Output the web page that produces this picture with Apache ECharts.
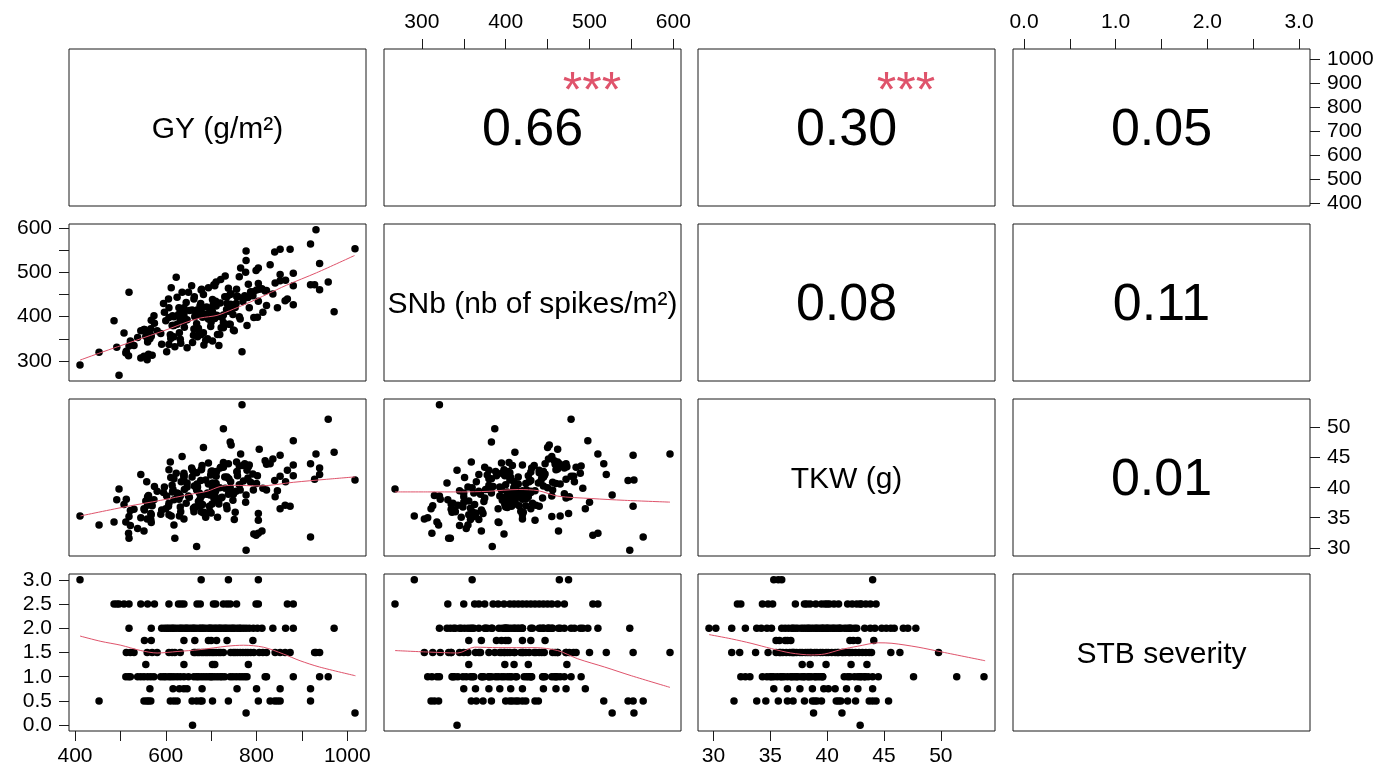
<!DOCTYPE html>
<html>
<head>
<meta charset="utf-8">
<script src="https://cdn.jsdelivr.net/npm/echarts@6/dist/echarts.min.js"></script>
<style>
  html, body { margin: 0; padding: 0; background: #fff; }
  #chart { width: 1383px; height: 770px; }
</style>
</head>
<body>
<div id="chart"></div>
<script>
// Variable names shown on the diagonal
const varNames = ['GY (g/m²)', 'SNb (nb of spikes/m²)', 'TKW (g)', 'STB severity'];

// Grain yield, g/m² (grouped by STB severity score)
const gy = [
  411, 678, 738, 804,
  486, 492, 497, 508, 519, 545, 560, 575, 607, 628, 634, 640, 669, 676, 705, 710, 727, 735, 742, 756, 799, 804, 868, 881,
  519, 568, 591, 597, 602, 606, 611, 615, 618, 623,
  629, 633, 636, 641, 645, 647, 652, 657, 661, 663,
  668, 674, 677, 681, 683, 688, 694, 697, 699, 703,
  708, 711, 716, 719, 722, 727, 731, 734, 739, 744,
  748, 751, 757, 762, 765, 771, 777, 784, 793, 802,
  812, 836, 864, 881, 971,
  553, 568, 640, 664, 694, 700, 712, 735, 792,
  513, 522, 530, 559, 570, 581, 607, 614, 620, 632,
  662, 665, 670, 674, 679, 683, 688, 692, 697, 702,
  706, 711, 717, 721, 727, 743, 749, 753, 758, 764,
  770, 776, 781, 787, 794, 806, 814, 822, 841, 852,
  863, 874, 928, 931, 939,
  556, 640, 703, 708, 782,
  512, 518, 522, 538, 545, 552, 560, 567, 574, 589,
  595, 600, 607, 612, 618, 625, 632, 640, 650, 662,
  668, 672, 678, 684, 690, 696, 700, 702, 708, 714,
  720, 724, 730, 742, 748, 755, 762, 768, 774, 779,
  819, 822, 881, 939, 958,
  565, 616, 630, 640, 647, 680, 757, 800, 852, 919,
  453, 552, 558, 562, 567, 610, 618, 625, 658, 668,
  676, 680, 703, 738, 804, 830, 840, 846, 852, 919,
  777, 1017,
  659
];

// Spike number, spikes/m²
const snb = [
  291, 360, 464, 475,
  391, 331, 268, 363, 455, 368, 350, 385, 398, 405, 410, 420, 415, 425, 430, 435, 375, 445, 450, 462, 504, 510, 440, 470,
  334, 392, 338, 410, 321, 440, 351, 402, 355, 489,
  420, 340, 455, 376, 432, 330, 414, 470, 358, 445,
  384, 362, 430, 399, 450, 347, 465, 407, 378, 345,
  396, 478, 401, 360, 375, 404, 492, 416, 383, 452,
  419, 368, 445, 400, 510, 442, 548, 420, 456, 399,
  463, 451, 482, 498, 411,
  371, 356, 389, 400, 395, 420, 403, 430, 447,
  322, 345, 335, 303, 313, 368, 420, 380, 332, 393,
  440, 402, 355, 411, 462, 364, 405, 350, 418, 399,
  472, 424, 335, 484, 387, 428, 370, 421, 446, 395,
  434, 500, 443, 456, 398, 462, 410, 459, 476, 481,
  436, 552, 472, 596, 520,
  356, 399, 410, 427, 473,
  318, 312, 339, 353, 307, 371, 343, 358, 402, 362,
  430, 391, 337, 465, 380, 444, 349, 395, 455, 372,
  413, 374, 460, 336, 422, 407, 388, 412, 470, 360,
  431, 398, 445, 383, 405, 430, 490, 321, 447, 380,
  458, 425, 427, 461, 478,
  350, 380, 364, 406, 393, 420, 445, 460, 495, 472,
  320, 311, 365, 315, 373, 359, 400, 383, 415, 405,
  424, 408, 439, 412, 435, 517, 546, 420, 552, 564,
  527, 553,
  342
];

// Thousand kernel weight, g
const tkw = [
  35.3, 36.0, 44.0, 35.7,
  34.3, 38.0, 39.8, 37.2, 35.2, 42.2, 38.5, 40.2, 43.0, 39.0,
  41.0, 34.8, 40.6, 38.2, 42.6, 39.5, 43.4, 41.8, 40.0, 44.3,
  32.1, 32.4, 42.9, 43.8,
  31.6, 34.2, 36.3, 40.1, 38.6, 36.9, 41.7, 39.3, 33.8, 42.4,
  38.1, 36.0, 45.2, 39.7, 37.4, 40.8, 38.4, 43.3, 36.6, 40.3,
  30.2, 39.1, 41.2, 37.2, 46.7, 35.1, 40.6, 38.8, 42.1, 39.5,
  37.9, 41.9, 37.7, 40.0, 38.3, 44.2, 39.9, 37.0, 41.5, 47.1,
  39.0, 34.7, 42.6, 40.5, 45.6, 41.1, 29.6, 43.8, 39.6, 42.0,
  32.8, 44.8, 41.0, 47.8, 45.9,
  36.3, 35.5, 42.0, 36.8, 44.1, 35.8, 42.7, 36.5, 42.3,
  38.1, 33.7, 36.4, 34.8, 37.0, 39.4, 35.5, 40.4, 31.6, 38.6,
  42.5, 36.7, 40.1, 37.8, 43.1, 35.8, 41.3, 39.1, 36.1, 42.8,
  38.3, 40.7, 37.3, 43.4, 49.8, 41.0, 38.9, 35.9, 42.0, 39.6,
  43.7, 37.6, 41.6, 40.9, 32.3, 46.4, 39.9, 43.9, 38.5, 41.9,
  37.1, 36.9, 41.4, 45.6, 42.2,
  37.8, 42.1, 39.9, 38.5, 43.5,
  34.3, 32.4, 36.2, 33.2, 35.0, 32.8, 37.1, 34.7, 38.0, 35.6,
  39.2, 36.5, 37.4, 35.3, 41.5, 38.3, 36.8, 42.4, 38.6, 36.0,
  39.6, 37.7, 43.0, 35.9, 38.9, 36.9, 42.7, 37.3, 39.0, 35.1,
  43.3, 38.4, 41.8, 47.6, 37.9, 39.4, 43.6, 53.8, 44.0, 42.9,
  44.5, 39.6, 42.0, 43.3, 51.4,
  37.6, 39.7, 35.3, 41.7, 40.1, 38.7, 42.7, 40.7, 36.5, 44.0,
  33.8, 36.5, 41.0, 38.7, 35.7, 44.3, 38.0, 39.1, 41.8, 42.5,
  37.0, 43.7, 40.8, 38.9, 34.6, 44.0, 41.2, 39.5, 45.4, 31.8,
  38.8, 41.3,
  42.9
];

// Septoria tritici blotch severity score
const stb = [
  3, 3, 3, 3,
  2.5, 2.5, 2.5, 2.5, 2.5, 2.5, 2.5, 2.5, 2.5, 2.5,
  2.5, 2.5, 2.5, 2.5, 2.5, 2.5, 2.5, 2.5, 2.5, 2.5,
  2.5, 2.5, 2.5, 2.5,
  2, 2, 2, 2, 2, 2, 2, 2, 2, 2,
  2, 2, 2, 2, 2, 2, 2, 2, 2, 2,
  2, 2, 2, 2, 2, 2, 2, 2, 2, 2,
  2, 2, 2, 2, 2, 2, 2, 2, 2, 2,
  2, 2, 2, 2, 2, 2, 2, 2, 2, 2,
  2, 2, 2, 2, 2,
  1.75, 1.75, 1.75, 1.75, 1.75, 1.75, 1.75, 1.75, 1.75,
  1.5, 1.5, 1.5, 1.5, 1.5, 1.5, 1.5, 1.5, 1.5, 1.5,
  1.5, 1.5, 1.5, 1.5, 1.5, 1.5, 1.5, 1.5, 1.5, 1.5,
  1.5, 1.5, 1.5, 1.5, 1.5, 1.5, 1.5, 1.5, 1.5, 1.5,
  1.5, 1.5, 1.5, 1.5, 1.5, 1.5, 1.5, 1.5, 1.5, 1.5,
  1.5, 1.5, 1.5, 1.5, 1.5,
  1.25, 1.25, 1.25, 1.25, 1.25,
  1, 1, 1, 1, 1, 1, 1, 1, 1, 1,
  1, 1, 1, 1, 1, 1, 1, 1, 1, 1,
  1, 1, 1, 1, 1, 1, 1, 1, 1, 1,
  1, 1, 1, 1, 1, 1, 1, 1, 1, 1,
  1, 1, 1, 1, 1,
  0.75, 0.75, 0.75, 0.75, 0.75, 0.75, 0.75, 0.75, 0.75, 0.75,
  0.5, 0.5, 0.5, 0.5, 0.5, 0.5, 0.5, 0.5, 0.5, 0.5,
  0.5, 0.5, 0.5, 0.5, 0.5, 0.5, 0.5, 0.5, 0.5, 0.5,
  0.25, 0.25,
  0
];

// Correlation coefficients for the upper panels: [row, col]
const corrCells = [[0, 1], [0, 2], [0, 3], [1, 2], [1, 3], [2, 3]];
const corrText = ['0.66', '0.30', '0.05', '0.08', '0.11', '0.01'];
const corrStars = ['***', '***', '', '', '', ''];

// Local smooth (lowess) trend per lower panel: [x, y]
const smoothGySnb = [[411, 302], [457, 319], [530, 345], [603, 371], [647, 388], [676, 397], [713, 403], [749, 417], [786, 433], [822, 450], [866, 471], [932, 499], [1016, 538]];
const smoothGyTkw = [[412, 35.3], [516, 36.9], [589, 37.9], [654, 38.9], [691, 39.4], [720, 40.2], [749, 40.4], [808, 40.3], [881, 40.9], [954, 41.4], [1017, 41.8]];
const smoothSnbTkw = [[268, 39.3], [307, 39.3], [347, 39.3], [379, 39.4], [415, 39.7], [439, 39.5], [462, 38.6], [502, 38.2], [542, 37.9], [596, 37.6]];
const smoothGyStb = [[411, 1.84], [457, 1.73], [501, 1.65], [545, 1.54], [581, 1.49], [625, 1.52], [676, 1.56], [735, 1.63], [771, 1.65], [815, 1.61], [859, 1.47], [896, 1.33], [939, 1.20], [1018, 1.02]];
const smoothSnbStb = [[268, 1.54], [307, 1.51], [343, 1.49], [363, 1.61], [391, 1.60], [435, 1.60], [462, 1.54], [486, 1.37], [518, 1.20], [550, 1.02], [596, 0.78]];
const smoothTkwStb = [[29.6, 1.87], [31.6, 1.78], [33.3, 1.69], [35.1, 1.58], [36.8, 1.49], [38.6, 1.45], [39.8, 1.47], [41.2, 1.56], [42.7, 1.63], [44.5, 1.70], [45.7, 1.69], [48.0, 1.61], [50.1, 1.51], [53.9, 1.33]];

// Axis ticks and labels
const gyTicks = [400, 500, 600, 700, 800, 900, 1000];
const gyLabelsBottom = [400, 600, 800, 1000];
const gyLabelsRight = [400, 500, 600, 700, 800, 900, 1000];
const snbTicks = [300, 350, 400, 450, 500, 550, 600];
const snbLabels = [300, 400, 500, 600];
const tkwTicks = [30, 35, 40, 45, 50];
const stbTicks = [0, 0.5, 1, 1.5, 2, 2.5, 3];
const stbLabelsTop = [0, 1, 2, 3];

// ---------------------------------------------------------------
const FONT = '"Liberation Sans", Arial, Helvetica, sans-serif';
const INK = '#1a1a1a';
const SMOOTH = '#DF536B';

const vars = [gy, snb, tkw, stb];
// Each variable spans its data range padded by 4% on both sides
const ranges = vars.map(a => {
  const lo = Math.min(...a), hi = Math.max(...a), d = (hi - lo) * 0.04;
  return [lo - d, hi + d];
});

const smoothByCell = {
  '1-0': smoothGySnb, '2-0': smoothGyTkw, '2-1': smoothSnbTkw,
  '3-0': smoothGyStb, '3-1': smoothSnbStb, '3-2': smoothTkwStb
};

const fmtInt = v => String(v);
const fmtOne = v => v.toFixed(1);

// Outer axes, keyed by panel position
const outerX = {
  '0-1': { ticks: snbTicks, labels: snbLabels, fmt: fmtInt },
  '0-3': { ticks: stbTicks, labels: stbLabelsTop, fmt: fmtOne },
  '3-0': { ticks: gyTicks, labels: gyLabelsBottom, fmt: fmtInt },
  '3-2': { ticks: tkwTicks, labels: tkwTicks, fmt: fmtInt }
};
const outerY = {
  '0-3': { ticks: gyTicks, labels: gyLabelsRight, fmt: fmtInt },
  '1-0': { ticks: snbTicks, labels: snbLabels, fmt: fmtInt },
  '2-3': { ticks: tkwTicks, labels: tkwTicks, fmt: fmtInt },
  '3-0': { ticks: stbTicks, labels: stbTicks, fmt: fmtOne }
};

const LEFT0 = 69, STEP_X = 314.7, PW = 297;
const TOP0 = 49, STEP_Y = 175, PH = 157;

function axis(gridIndex, range, position, spec, margin) {
  return {
    type: 'value', gridIndex, min: range[0], max: range[1], position,
    axisLine: { show: false, onZero: false },
    splitLine: { show: false },
    axisTick: spec ? { show: true, customValues: spec.ticks, length: 10, inside: false,
      lineStyle: { color: INK, width: 1 } } : { show: false },
    axisLabel: spec ? { show: true, customValues: spec.labels, formatter: spec.fmt, margin,
      fontSize: 21, color: '#000', fontFamily: FONT } : { show: false }
  };
}

const grids = [], xAxes = [], yAxes = [], series = [];
const at = (range, f) => range[0] + f * (range[1] - range[0]);
const textItem = { color: 'rgba(0,0,0,0)', opacity: 1 };

for (let r = 0; r < 4; r++) {
  for (let c = 0; c < 4; c++) {
    const g = r * 4 + c, key = r + '-' + c;
    grids.push({
      left: Math.round(LEFT0 + c * STEP_X), top: TOP0 + r * STEP_Y, width: PW, height: PH,
      show: true, borderColor: INK, borderWidth: 1, backgroundColor: 'transparent'
    });
    xAxes.push(axis(g, ranges[c], r === 0 ? 'top' : 'bottom', outerX[key], r === 0 ? 16 : 15));
    yAxes.push(axis(g, ranges[r], c === 0 ? 'left' : 'right', outerY[key], 17));

    if (r > c) {
      series.push({
        type: 'scatter', xAxisIndex: g, yAxisIndex: g, symbol: 'circle', symbolSize: 7.5,
        itemStyle: { color: '#000', opacity: 1 }, silent: true, z: 2,
        data: vars[c].map((v, i) => [v, vars[r][i]])
      });
      series.push({
        type: 'line', xAxisIndex: g, yAxisIndex: g, showSymbol: false, smooth: 0.3,
        lineStyle: { color: SMOOTH, width: 1 }, silent: true, z: 3,
        data: smoothByCell[key]
      });
    } else if (r === c) {
      series.push({
        type: 'scatter', xAxisIndex: g, yAxisIndex: g, symbolSize: 0, silent: true,
        itemStyle: textItem,
        data: [[at(ranges[c], 0.5), at(ranges[r], 0.488)]],
        label: { show: true, position: 'inside', formatter: varNames[r],
          fontSize: 30, color: '#000', fontFamily: FONT }
      });
    }
  }
}

corrCells.forEach(([r, c], k) => {
  const g = r * 4 + c;
  series.push({
    type: 'scatter', xAxisIndex: g, yAxisIndex: g, symbolSize: 0, silent: true,
    itemStyle: textItem,
    data: [[at(ranges[c], 0.5), at(ranges[r], 0.477)]],
    label: { show: true, position: 'inside', formatter: corrText[k],
      fontSize: 52, color: '#000', fontFamily: FONT }
  });
  if (corrStars[k]) {
    series.push({
      type: 'scatter', xAxisIndex: g, yAxisIndex: g, symbolSize: 0, silent: true,
      itemStyle: textItem,
      data: [[at(ranges[c], 0.70), at(ranges[r], 0.72)]],
      label: { show: true, position: 'inside', formatter: corrStars[k],
        fontSize: 50, color: SMOOTH, fontFamily: FONT }
    });
  }
});

const chart = echarts.init(document.getElementById('chart'), null, { renderer: 'canvas' });
chart.setOption({
  animation: false,
  backgroundColor: '#fff',
  grid: grids,
  xAxis: xAxes,
  yAxis: yAxes,
  series
});
</script>
</body>
</html>
